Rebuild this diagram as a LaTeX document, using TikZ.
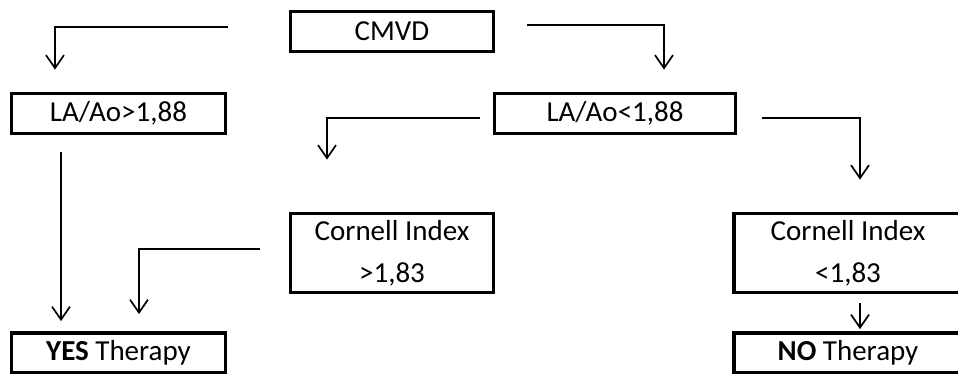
\documentclass[tikz,border=0pt]{standalone}
\usepackage{fontspec}
\setmainfont{Carlito}
\usepackage{tikz}
\usetikzlibrary{arrows.meta}

\tikzset{
  box/.style={draw, line width=3.8pt, inner sep=0pt, align=center,
    font=\fontsize{29}{42}\selectfont},
  arr/.style={line width=1.7pt, -{Straight Barb[length=13pt,width=18pt,line width=1.7pt]}}
}

\begin{document}
\begin{tikzpicture}[x=1pt,y=1pt]
\useasboundingbox (0,0) rectangle (958,373);
\clip (0,0) rectangle (958,373);
% boxes
\node[box, minimum width=203pt, minimum height=40pt] (cmvd) at (392,341.5) {CMVD};
\node[box, minimum width=214pt, minimum height=40pt] (gt) at (118.5,259.5) {LA/Ao>1,88};
\node[box, minimum width=241pt, minimum height=40pt] (lt) at (615,259.5) {LA/Ao<1,88};
\node[box, minimum width=203pt, minimum height=79pt] (cgt) at (392,120) {Cornell Index\\>1,83};
\node[box, minimum width=228pt, minimum height=79pt] (clt) at (848,120) {Cornell Index\\<1,83};
\node[box, minimum width=214pt, minimum height=40pt] (yes) at (118.5,20) {\textbf{YES} Therapy};
\node[box, minimum width=228pt, minimum height=40pt] (no) at (848,20) {\textbf{NO} Therapy};
% arrows
\draw[arr] ([xshift=-61pt,yshift=4.5pt]cmvd.west) -| ([xshift=-63.5pt,yshift=22pt]gt.north);
\draw[arr] ([xshift=32pt,yshift=6.5pt]cmvd.east) -| ([xshift=49pt,yshift=22pt]lt.north);
\draw[arr] ([xshift=-13pt,yshift=-4.5pt]lt.west) -| ([xshift=-65pt,yshift=52pt]cgt.north);
\draw[arr] ([xshift=25pt,yshift=-4.5pt]lt.east) -| ([xshift=12pt,yshift=32pt]clt.north);
\draw[arr] ([xshift=-57.5pt,yshift=-17pt]gt.south) -- ([xshift=-57.5pt,yshift=10pt]yes.north);
\draw[arr] ([xshift=-29pt,yshift=4pt]cgt.west) -| ([xshift=20.5pt,yshift=17pt]yes.north);
\draw[arr] ([xshift=12pt,yshift=-9pt]clt.south) -- ([xshift=12pt,yshift=2pt]no.north);
\end{tikzpicture}
\end{document}
